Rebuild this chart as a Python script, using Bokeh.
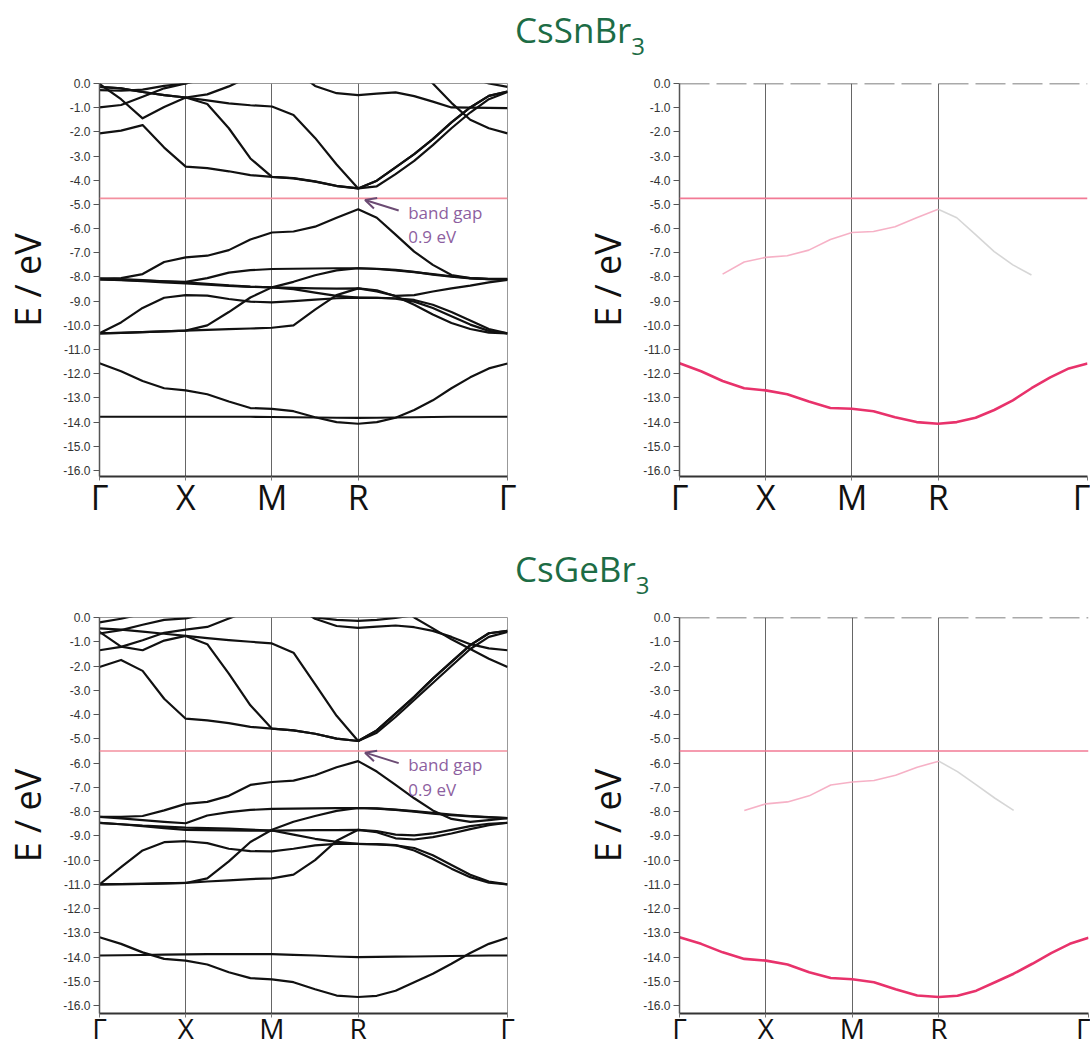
from bokeh.plotting import figure
from bokeh.models import (FixedTicker, PrintfTickFormatter, Span, Arrow, OpenHead,
                          Label, Div, Range1d)
from bokeh.layouts import column, row
from bokeh.embed import file_html
from bokeh.resources import INLINE

nan = float("nan")

# ---------------- k-path ----------------
K_LABELS = ["Γ", "X", "M", "R", "Γ"]
K_NODES = [0.0, 0.5, 1.0, 1.5, 2.366]
K = [0.0, 0.125, 0.25, 0.375, 0.5,
     0.625, 0.75, 0.875, 1.0,
     1.125, 1.25, 1.375, 1.5,
     1.608, 1.717, 1.825, 1.933, 2.041, 2.150, 2.258, 2.366]
Y_TICKS = [0.0, -1.0, -2.0, -3.0, -4.0, -5.0, -6.0, -7.0, -8.0, -9.0, -10.0,
           -11.0, -12.0, -13.0, -14.0, -15.0, -16.0]

TITLES = ["CsSnBr", "CsGeBr"]
GAP_TEXT = ["band gap", "0.9 eV"]
MIDGAP_SN = -4.75
MIDGAP_GE = -5.5

# ---------------- CsSnBr3 bands (eV) ----------------
SN_V1 = [-8.08, -8.05, -7.88, -7.38, -7.19, -7.12, -6.89, -6.45, -6.16, -6.12, -5.92, -5.55, -5.20, -5.55, -6.25, -6.95, -7.50, -7.92, -8.05, -8.08, -8.08]
SN_V2 = [-8.10, -8.12, -8.15, -8.18, -8.20, -8.05, -7.82, -7.72, -7.67, -7.66, -7.65, -7.64, -7.64, -7.67, -7.73, -7.80, -7.88, -7.97, -8.05, -8.09, -8.10]
SN_V3 = [-10.33, -10.31, -10.28, -10.25, -10.22, -10.00, -9.45, -8.85, -8.43, -8.20, -7.93, -7.73, -7.64, -7.66, -7.71, -7.79, -7.90, -7.99, -8.06, -8.09, -8.10]
SN_V4 = [-10.33, -10.31, -10.28, -10.25, -10.22, -10.19, -10.16, -10.13, -10.10, -10.00, -9.35, -8.75, -8.47, -8.55, -8.80, -9.15, -9.55, -9.90, -10.15, -10.30, -10.33]
SN_V5 = [-10.33, -9.88, -9.28, -8.86, -8.75, -8.77, -8.91, -9.02, -9.05, -9.00, -8.94, -8.88, -8.85, -8.86, -8.88, -8.95, -9.15, -9.45, -9.80, -10.15, -10.33]
SN_V6 = [-8.10, -8.13, -8.17, -8.22, -8.27, -8.32, -8.37, -8.41, -8.43, -8.50, -8.65, -8.78, -8.85, -8.86, -8.90, -9.02, -9.28, -9.62, -9.97, -10.23, -10.33]
SN_V7 = [-8.06, -8.09, -8.13, -8.18, -8.22, -8.28, -8.35, -8.40, -8.43, -8.45, -8.47, -8.48, -8.47, -8.60, -8.78, -8.75, -8.60, -8.47, -8.36, -8.22, -8.12]
SN_S = [-11.57, -11.90, -12.30, -12.60, -12.69, -12.85, -13.15, -13.42, -13.45, -13.55, -13.80, -14.00, -14.07, -14.00, -13.82, -13.50, -13.10, -12.60, -12.15, -11.78, -11.58]
SN_CS = [-13.78, -13.78, -13.78, -13.78, -13.78, -13.78, -13.78, -13.78, -13.79, -13.80, -13.81, -13.82, -13.83, -13.82, -13.81, -13.80, -13.79, -13.78, -13.78, -13.78, -13.78]
SN_C1 = [-0.02, -0.65, -1.44, -0.97, -0.58, -0.85, -1.85, -3.10, -3.86, -3.92, -4.06, -4.24, -4.34, -4.02, -3.47, -2.92, -2.30, -1.61, -0.99, -0.51, -0.33]
SN_C2 = [-2.06, -1.95, -1.72, -2.65, -3.44, -3.50, -3.63, -3.79, -3.86, -3.91, -4.05, -4.23, -4.34, -4.25, -3.75, -3.20, -2.55, -1.85, -1.20, -0.65, -0.35]
SN_C3 = [-0.14, -0.20, -0.35, -0.48, -0.58, -0.70, -0.82, -0.90, -0.95, -1.30, -2.25, -3.35, -4.34, -4.02, -3.47, -2.92, -2.30, -1.61, -0.99, -0.51, -0.33]
SN_C4 = [-0.27, -0.30, -0.25, -0.10, 0.00, 0.20, 0.50, nan, nan, nan, nan, nan, nan, nan, nan, 1.50, 1.00, 0.60, 0.25, 0.00, -0.14]
SN_C5 = [-0.99, -0.89, -0.55, -0.20, 0.00, 0.30, nan, nan, 1.20, 0.60, -0.10, -0.40, -0.48, -0.42, -0.37, -0.52, -0.75, -0.99, -1.00, -1.01, -1.02]
SN_C6 = [-0.14, -0.20, -0.35, -0.48, -0.58, -0.45, -0.12, 0.30, nan, nan, nan, nan, nan, 2.00, 1.40, 0.70, 0.00, -0.80, -1.50, -1.85, -2.06]

# ---------------- CsGeBr3 bands (eV) ----------------
GE_V1 = [-8.22, -8.22, -8.18, -7.95, -7.68, -7.60, -7.35, -6.90, -6.78, -6.72, -6.50, -6.17, -5.92, -6.35, -6.90, -7.45, -7.95, -8.30, -8.42, -8.35, -8.27]
GE_V2 = [-8.22, -8.28, -8.35, -8.42, -8.48, -8.16, -8.02, -7.93, -7.89, -7.88, -7.87, -7.86, -7.85, -7.88, -7.93, -8.00, -8.08, -8.15, -8.20, -8.24, -8.27]
GE_V3 = [-11.00, -10.99, -10.98, -10.96, -10.94, -10.75, -10.05, -9.25, -8.75, -8.42, -8.18, -7.97, -7.85, -7.87, -7.92, -7.98, -8.05, -8.12, -8.18, -8.23, -8.27]
GE_V4 = [-11.00, -10.99, -10.98, -10.96, -10.94, -10.88, -10.83, -10.78, -10.75, -10.60, -10.00, -9.20, -8.75, -8.85, -9.10, -9.15, -9.05, -8.90, -8.72, -8.56, -8.46]
GE_V5 = [-11.00, -10.29, -9.60, -9.26, -9.22, -9.30, -9.53, -9.63, -9.64, -9.53, -9.39, -9.33, -9.33, -9.35, -9.39, -9.50, -9.80, -10.20, -10.60, -10.88, -11.00]
GE_V6 = [-8.46, -8.52, -8.58, -8.62, -8.66, -8.68, -8.70, -8.74, -8.78, -8.95, -9.12, -9.25, -9.33, -9.34, -9.38, -9.60, -9.95, -10.35, -10.70, -10.93, -11.00]
GE_V7 = [-8.46, -8.52, -8.60, -8.68, -8.75, -8.76, -8.77, -8.78, -8.78, -8.77, -8.76, -8.76, -8.75, -8.80, -8.95, -8.98, -8.90, -8.75, -8.60, -8.50, -8.46]
GE_S = [-13.18, -13.45, -13.80, -14.07, -14.14, -14.30, -14.62, -14.86, -14.91, -15.03, -15.32, -15.58, -15.64, -15.59, -15.38, -15.03, -14.68, -14.27, -13.83, -13.45, -13.20]
GE_CS = [-13.93, -13.92, -13.91, -13.89, -13.88, -13.87, -13.87, -13.87, -13.87, -13.90, -13.93, -13.97, -14.00, -13.99, -13.98, -13.97, -13.96, -13.95, -13.94, -13.93, -13.93]
GE_C1 = [-0.59, -1.20, -1.35, -0.95, -0.76, -1.10, -2.31, -3.62, -4.58, -4.65, -4.79, -4.99, -5.09, -4.65, -3.96, -3.27, -2.52, -1.83, -1.14, -0.65, -0.55]
GE_C2 = [-2.04, -1.75, -2.20, -3.35, -4.17, -4.24, -4.35, -4.51, -4.58, -4.65, -4.79, -4.99, -5.09, -4.75, -4.10, -3.40, -2.70, -2.00, -1.30, -0.80, -0.60]
GE_C3 = [-0.45, -0.50, -0.58, -0.67, -0.76, -0.85, -0.93, -1.00, -1.07, -1.45, -2.75, -4.05, -5.09, -4.65, -3.96, -3.27, -2.52, -1.83, -1.14, -0.65, -0.55]
GE_C4 = [-0.66, -0.52, -0.30, -0.10, -0.04, 0.15, 0.50, nan, 1.20, 0.50, -0.05, -0.35, -0.43, -0.38, -0.33, -0.40, -0.55, -0.80, -1.10, -1.27, -1.35]
GE_C5 = [-1.35, -1.21, -0.94, -0.63, -0.50, -0.39, -0.04, 0.30, 0.60, 0.30, 0.00, -0.10, -0.14, -0.10, -0.02, 0.10, 0.40, nan, nan, nan, nan]
GE_C6 = [-0.20, -0.05, 0.15, nan, nan, nan, nan, nan, nan, nan, nan, nan, nan, 1.20, 0.60, 0.00, -0.45, -0.90, -1.30, -1.70, -2.04]

SN_BANDS = [SN_V1, SN_V2, SN_V3, SN_V4, SN_V5, SN_V6, SN_V7, SN_S, SN_CS,
            SN_C1, SN_C2, SN_C3, SN_C4, SN_C5, SN_C6]
GE_BANDS = [GE_V1, GE_V2, GE_V3, GE_V4, GE_V5, GE_V6, GE_V7, GE_S, GE_CS,
            GE_C1, GE_C2, GE_C3, GE_C4, GE_C5, GE_C6]

BAND_COLOR = "#111111"
PINK = "#e8326b"
GAP_PINK = "#f3909f"
TITLE_GREEN = "#1d6c45"


def style_axes(p, k_font, k_standoff):
    p.x_range = Range1d(K_NODES[0], K_NODES[-1])
    p.yaxis.ticker = FixedTicker(ticks=Y_TICKS)
    p.yaxis.formatter = PrintfTickFormatter(format="%.1f")
    p.yaxis.axis_label = "E / eV"
    p.yaxis.axis_label_text_font = "Open Sans"
    p.yaxis.axis_label_text_font_size = "36px"
    p.yaxis.axis_label_text_font_style = "normal"
    p.yaxis.axis_label_text_color = "#111111"
    p.yaxis.axis_label_standoff = 8
    p.yaxis.major_label_text_font = "Liberation Sans"
    p.yaxis.major_label_text_font_size = "12px"
    p.yaxis.major_label_text_color = "#333333"
    p.yaxis.major_label_standoff = 3
    p.yaxis.major_tick_out = 6
    p.yaxis.major_tick_in = 0
    p.yaxis.major_tick_line_color = "#555555"
    p.yaxis.minor_tick_line_color = None
    p.yaxis.axis_line_color = "#555555"
    p.yaxis.axis_line_width = 1.5

    p.xaxis.ticker = FixedTicker(ticks=K_NODES)
    p.xaxis.major_label_overrides = {k: lab for k, lab in zip(K_NODES, K_LABELS)}
    p.xaxis.major_label_text_font = "Open Sans"
    p.xaxis.major_label_text_font_size = k_font
    p.xaxis.major_label_text_color = "#111111"
    p.xaxis.major_label_standoff = k_standoff
    p.xaxis.major_tick_out = 4
    p.xaxis.major_tick_in = 0
    p.xaxis.major_tick_line_color = "#777777"
    p.xaxis.minor_tick_line_color = None
    p.xaxis.axis_line_color = "#333333"
    p.xaxis.axis_line_width = 2

    p.xgrid.ticker = FixedTicker(ticks=K_NODES)
    p.xgrid.grid_line_color = "#666666"
    p.xgrid.grid_line_width = 1
    p.ygrid.grid_line_color = None


def make_fig(ymin, left, frame_w, width, top, frame_h, bottom, k_font, k_standoff):
    p = figure(width=width, height=top + frame_h + bottom,
               y_range=Range1d(ymin, 0.0),
               output_backend="svg", toolbar_location=None,
               min_border_left=left, min_border_right=width - left - frame_w,
               min_border_top=top, min_border_bottom=bottom, margin=0)
    p.background_fill_color = "white"
    p.border_fill_color = "white"
    style_axes(p, k_font, k_standoff)
    return p


def band_panel(bands, midgap, ymin, left, frame_w, width, top, frame_h, bottom, k_font, k_standoff):
    p = make_fig(ymin, left, frame_w, width, top, frame_h, bottom, k_font, k_standoff)
    p.outline_line_color = "#999999"
    p.add_layout(Span(location=midgap, dimension="width", line_color=GAP_PINK, line_width=1.6))
    for b in bands:
        p.line(K, b, line_color=BAND_COLOR, line_width=2.2, line_join="round")
    r = K_NODES[3]
    p.add_layout(Arrow(end=OpenHead(size=11, line_color="#6b4b73", line_width=2),
                       x_start=r + 0.235, y_start=midgap - 0.5,
                       x_end=r + 0.04, y_end=midgap - 0.07,
                       line_color="#6b4b73", line_width=2))
    p.add_layout(Label(x=r + 0.29, y=midgap - 0.57, text=GAP_TEXT[0],
                       text_font="Open Sans", text_font_size="17px",
                       text_color="#8d5fa0", text_baseline="middle"))
    p.add_layout(Label(x=r + 0.29, y=midgap - 1.57, text=GAP_TEXT[1],
                       text_font="Open Sans", text_font_size="17px",
                       text_color="#8d5fa0", text_baseline="middle"))
    return p


def pdos_panel(s_band, vbm, pink_from, gray_to, midgap, ymin, left, frame_w, width, top, frame_h, bottom, k_font, k_standoff):
    p = make_fig(ymin, left, frame_w, width, top, frame_h, bottom, k_font, k_standoff)
    p.outline_line_color = None
    p.add_layout(Span(location=0.0, dimension="width", line_color="#555555",
                      line_width=1.5, line_dash="30 7"))
    p.add_layout(Span(location=midgap, dimension="width", line_color="#f27a95", line_width=1.6))
    p.line(K[pink_from:13], vbm[pink_from:13], line_color="#f5a9c0", line_width=1.6, line_alpha=0.9)
    p.line(K[12:gray_to], vbm[12:gray_to], line_color="#cccccc", line_width=1.6, line_alpha=0.8)
    p.line(K, s_band, line_color=PINK, line_width=2.6, line_join="round")
    return p


# ---------------- layout ----------------
p1 = band_panel(SN_BANDS, MIDGAP_SN, -16.25, 98, 409, 580, 10, 393, 48, "34px", -7)
p2 = pdos_panel(SN_S, SN_V1, 2, 18, MIDGAP_SN, -16.25, 97, 410, 510, 10, 393, 48, "34px", -7)
p3 = band_panel(GE_BANDS, MIDGAP_GE, -16.32, 99, 408, 580, 10, 396, 36, "28px", -9)
p4 = pdos_panel(GE_S, GE_V1, 3, 17, MIDGAP_GE, -16.32, 99, 409, 510, 10, 396, 36, "28px", -9)


def title_div(name, height, pad_top):
    html = ('<div style="padding-left:515px;padding-top:%dpx;font-family:\'Open Sans\';'
            'font-size:35px;line-height:1.36;color:%s;white-space:nowrap;">%s'
            '<span style="font-size:24px;position:relative;top:12px;">3</span></div>'
            % (pad_top, TITLE_GREEN, name))
    return Div(text=html, width=1090, height=height, margin=(0, 0, 0, 0),
               styles={"overflow": "hidden"})


d1 = title_div(TITLES[0], 73, 6)
d2 = title_div(TITLES[1], 83, 21)

layout = column(d1, row(p1, p2, spacing=0), d2, row(p3, p4, spacing=0), spacing=0)

open("out.html", "w").write(file_html(layout, INLINE, "CsSnBr3 / CsGeBr3 band structures"))
